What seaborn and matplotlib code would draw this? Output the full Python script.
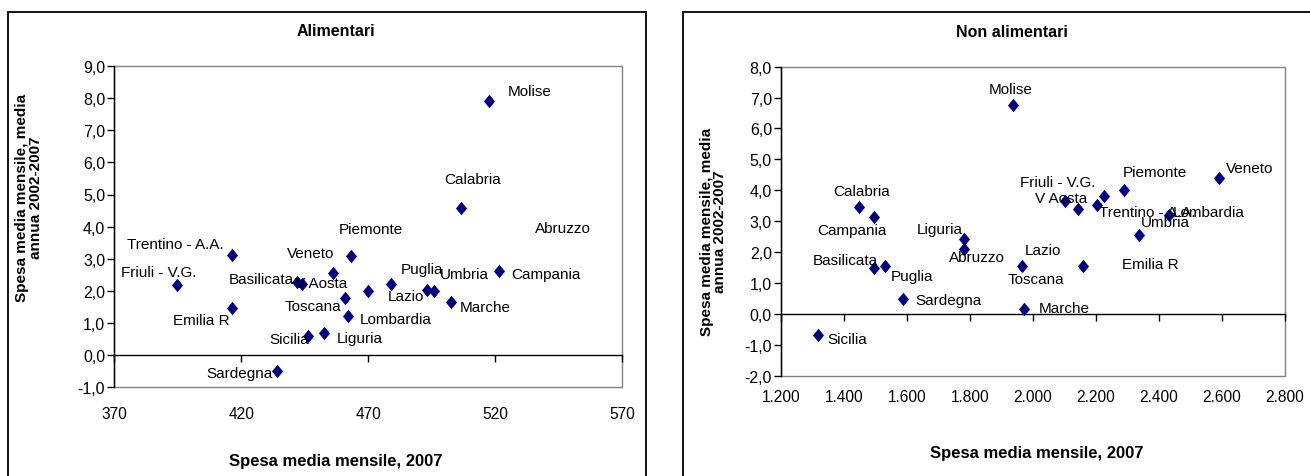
import matplotlib
matplotlib.use("Agg")
import matplotlib.pyplot as plt
import seaborn as sns
import numpy as np
import pandas as pd
from matplotlib.patches import Rectangle
from matplotlib.ticker import FuncFormatter, MultipleLocator

sns.set_theme(style="white")
plt.rcParams["font.family"] = ["Liberation Sans", "DejaVu Sans"]

# ---------------- data: Alimentari ----------------
food_regions = ["Molise", "Calabria", "Abruzzo", "Lazio", "Puglia", "Umbria", "Piemonte",
                "Trentino - A.A.", "Veneto", "Friuli - V.G.", "Basilicata", "V Aosta",
                "Toscana", "Lombardia", "Emilia R", "Sicilia", "Liguria", "Sardegna",
                "Marche", "Campania"]
food_spesa = [517.5, 506.7, 470.1, 479.1, 493.1, 496.0, 463.3,
              416.5, 456.3, 394.7, 442.0, 443.8,
              460.9, 462.2, 416.5, 446.5, 452.7, 434.0,
              502.7, 521.8]
food_var = [7.93, 4.59, 1.99, 2.22, 2.02, 1.99, 3.07,
            3.12, 2.54, 2.18, 2.28, 2.20,
            1.76, 1.20, 1.45, 0.60, 0.68, -0.50,
            1.66, 2.62]
food_xticks = [370, 420, 470, 520, 570]

# ---------------- data: Non alimentari ----------------
nonfood_regions = ["Molise", "Calabria", "Campania", "Liguria", "Abruzzo", "Veneto", "Piemonte",
                   "Friuli - V.G.", "V Aosta", "Emilia R", "Trentino - A.A.", "Lombardia",
                   "Umbria", "Basilicata", "Puglia", "Sardegna", "Lazio", "Toscana",
                   "Marche", "Sicilia"]
nonfood_spesa = [1937, 1448, 1494, 1780, 1780, 2590, 2289,
                 2226, 2102, 2143, 2202, 2431,
                 2338, 1496, 1531, 1588, 1964, 2160,
                 1973, 1316]
nonfood_var = [6.77, 3.46, 3.12, 2.41, 2.11, 4.40, 4.02,
               3.82, 3.64, 3.41, 3.51, 3.19,
               2.54, 1.47, 1.54, 0.47, 1.54, 1.54,
               0.17, -0.69]
nonfood_xticks = [1200, 1400, 1600, 1800, 2000, 2200, 2400, 2600, 2800]

# ---------------- layout: label anchor positions (data coords, left/center) ----------------
food_label_pos = {
    "Molise": (525, 8.22), "Calabria": (500, 5.49), "Abruzzo": (535.8, 3.94),
    "Piemonte": (458.3, 3.92), "Trentino - A.A.": (375, 3.45), "Veneto": (438.2, 3.16),
    "Friuli - V.G.": (372.8, 2.57), "Basilicata": (415, 2.36), "V Aosta": (441.2, 2.23),
    "Toscana": (437.3, 1.51), "Lombardia": (466.6, 1.13), "Emilia R": (393.3, 1.08),
    "Sicilia": (431.3, 0.49), "Liguria": (457.8, 0.52), "Sardegna": (406.2, -0.58),
    "Lazio": (477.6, 1.82), "Puglia": (482.9, 2.69), "Umbria": (498.4, 2.51),
    "Marche": (506.2, 1.48), "Campania": (526.6, 2.51),
}
nonfood_label_pos = {
    "Molise": (1861, 7.27), "Veneto": (2611, 4.72), "Piemonte": (2286, 4.60),
    "Friuli - V.G.": (1960, 4.27), "V Aosta": (2005, 3.76), "Trentino - A.A.": (2210, 3.30),
    "Lombardia": (2444, 3.30), "Umbria": (2341, 2.98), "Calabria": (1367, 3.97),
    "Campania": (1315, 2.71), "Liguria": (1630, 2.76), "Basilicata": (1302, 1.73),
    "Abruzzo": (1732, 1.84), "Lazio": (1975, 2.06), "Toscana": (1920, 1.14),
    "Emilia R": (2282, 1.63), "Puglia": (1549, 1.22), "Sardegna": (1628, 0.44),
    "Marche": (2019, 0.19), "Sicilia": (1348, -0.80),
}

W, H = 1310, 477
fig = plt.figure(figsize=(W / 100, H / 100), dpi=100)
fig.patch.set_facecolor("white")

# outer chart boxes
fig.add_artist(Rectangle((8 / W, -0.1), (646 - 8) / W, 1.1 - 12.5 / H,
                         transform=fig.transFigure, fill=False, ec="black", lw=1.3))
fig.add_artist(Rectangle((683 / W, -0.1), 1.0, 1.1 - 12.5 / H,
                         transform=fig.transFigure, fill=False, ec="black", lw=1.3))

# plot areas (pixel boxes measured on the reference)
L1, R1, T1, B1 = 114.2, 621.8, 67.3, 387.8
L2, R2, T2, B2 = 781.0, 1285.0, 67.7, 376.7
ax1 = fig.add_axes([L1 / W, 1 - B1 / H, (R1 - L1) / W, (B1 - T1) / H])
ax2 = fig.add_axes([L2 / W, 1 - B2 / H, (R2 - L2) / W, (B2 - T2) / H])

NAVY = "#000080"
DIAMOND = [(0, 1), (0.82, 0), (0, -1), (-0.82, 0), (0, 1)]
yfmt = FuncFormatter(lambda v, p: f"{v:.1f}".replace(".", ","))


def style(ax, xlim, ylim, xticks, xfmt, xpad, xlabel_px, ylabel_px, box):
    L, R, T, B = box
    ax.set_xlim(*xlim)
    ax.set_ylim(*ylim)
    ax.set_facecolor("white")
    ax.grid(False)
    for s in ["top", "right"]:
        ax.spines[s].set_visible(False)
    ax.spines["left"].set_color("black")
    ax.spines["left"].set_linewidth(1.0)
    ax.spines["bottom"].set_position(("data", 0))
    ax.spines["bottom"].set_color("black")
    ax.spines["bottom"].set_linewidth(1.0)
    ax.add_patch(Rectangle((0, 0), 1, 1, transform=ax.transAxes, fill=False,
                           ec="#808080", lw=1.0, clip_on=False, zorder=0.5))
    ax.set_xticks(xticks)
    ax.yaxis.set_major_locator(MultipleLocator(1))
    ax.yaxis.set_major_formatter(yfmt)
    ax.tick_params(axis="x", bottom=True, direction="out", length=5, width=1,
                   color="black", labelbottom=False)
    ax.tick_params(axis="y", left=True, direction="out", length=5, width=1,
                   color="black", labelsize=11.5, pad=1.5, labelcolor="black")
    sec = ax.secondary_xaxis("bottom")
    sec.set_xticks(xticks)
    sec.xaxis.set_major_formatter(xfmt)
    sec.tick_params(length=0, pad=xpad, labelsize=11.2, labelcolor="black")
    sec.spines["bottom"].set_visible(False)
    ax.set_xlabel("Spesa media mensile, 2007", fontsize=12, fontweight="bold", color="black")
    ax.xaxis.set_label_coords((xlabel_px[0] - L) / (R - L), (B - xlabel_px[1]) / (B - T))
    ax.xaxis.label.set_va("center")
    ax.set_ylabel("Spesa media mensile, media\nannua 2002-2007", fontsize=11,
                  fontweight="bold", color="black", linespacing=1.0)
    ax.yaxis.set_label_coords((ylabel_px[0] - L) / (R - L), (B - ylabel_px[1]) / (B - T))
    ax.yaxis.label.set_va("center")


df1 = pd.DataFrame({"regione": food_regions, "spesa": food_spesa, "var": food_var})
df2 = pd.DataFrame({"regione": nonfood_regions, "spesa": nonfood_spesa, "var": nonfood_var})

sns.scatterplot(data=df1, x="spesa", y="var", ax=ax1, marker=DIAMOND, s=95,
                color=NAVY, edgecolor=NAVY, linewidth=0, zorder=3)
sns.scatterplot(data=df2, x="spesa", y="var", ax=ax2, marker=DIAMOND, s=95,
                color=NAVY, edgecolor=NAVY, linewidth=0, zorder=3)

style(ax1, (370, 570), (-1, 9), food_xticks,
      FuncFormatter(lambda v, p: f"{int(round(v))}"), 14,
      (336, 461.7), (29, 198), (L1, R1, T1, B1))
style(ax2, (1200, 2800), (-2, 8), nonfood_xticks,
      FuncFormatter(lambda v, p: f"{int(round(v)):,}".replace(",", ".")), 9.5,
      (1037, 453.3), (713.5, 232), (L2, R2, T2, B2))

fig.text(336 / W, 1 - 31 / H, "Alimentari", fontsize=11.5, fontweight="bold",
         ha="center", va="center", color="black")
fig.text(1012 / W, 1 - 32.7 / H, "Non alimentari", fontsize=11.5, fontweight="bold",
         ha="center", va="center", color="black")

for ax, df, pos in [(ax1, df1, food_label_pos), (ax2, df2, nonfood_label_pos)]:
    for _, r in df.iterrows():
        lx, ly = pos[r["regione"]]
        ax.text(lx, ly, r["regione"], fontsize=11, ha="left", va="center",
                color="black", zorder=4)
    if ax.get_legend() is not None:
        ax.get_legend().remove()

fig.savefig("out.png", dpi=100, facecolor="white")
